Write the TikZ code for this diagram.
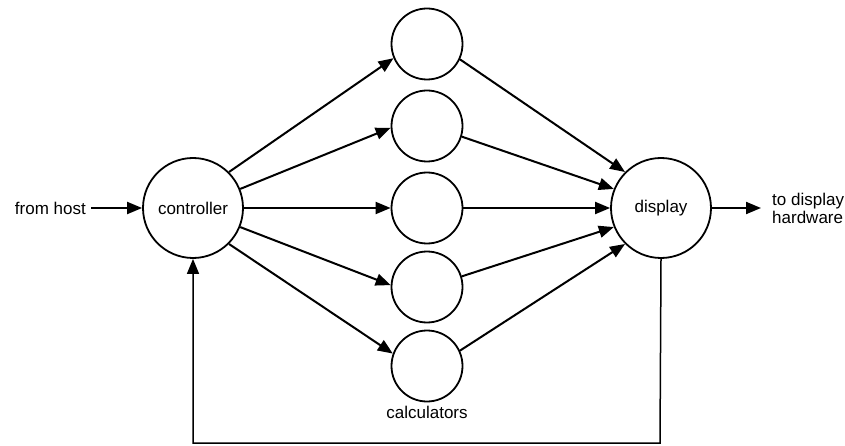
\documentclass[tikz,border=0pt]{standalone}
\usepackage{fontspec}
\setmainfont{Liberation Sans}
\usetikzlibrary{arrows.meta}
\tikzset{
  bigcirc/.style={draw, circle, line width=1.8pt, minimum size=100pt, inner sep=0pt, font=\fontsize{17}{18}\selectfont},
  calc/.style={draw, circle, line width=1.8pt, minimum size=71pt, inner sep=0pt},
  arr/.style={line width=2pt, -{Triangle[length=15pt,width=12pt]}},
  fb/.style={line width=1.5pt, -{Triangle[length=15pt,width=12pt]}},
  lbl/.style={font=\fontsize{17}{18}\selectfont, inner sep=0pt}
}
\begin{document}
\begin{tikzpicture}[x=1pt,y=-1pt]
\useasboundingbox (0,0) rectangle (845,446);
\node[bigcirc] (ctrl) at (193,208) {controller};
\node[bigcirc] (disp) at (661,208) {display};
\node[calc] (c1) at (427,44) {};
\node[calc] (c2) at (427,126) {};
\node[calc] (c3) at (427,208) {};
\node[calc] (c4) at (427,287) {};
\node[calc] (c5) at (427,366) {};
\node[lbl, anchor=east] (host) at (86,208) {from host};
\node[lbl, anchor=west, align=left] (hw) at (772,208) {to display\\hardware};
\node[lbl] (calcs) at (427,412) {calculators};
\coordinate (fbR) at (660,443);
\coordinate (fbL) at (193,443);
% inputs
\draw[arr, shorten <=5pt] (host.east) -- (ctrl.west);
\draw[arr, shorten >=11pt] (disp.east) -- (hw.west);
% controller to calculators
\draw[arr] (ctrl.45) -- (c1.203);
\draw[arr] (ctrl.22) -- (c2.183);
\draw[arr] (ctrl.0) -- (c3.180);
\draw[arr] (ctrl.-22) -- (c4.177);
\draw[arr] (ctrl.-45) -- (c5.160);
% calculators to display
\draw[arr] (c1.-25) -- (disp.135);
\draw[arr] (c2.-17) -- (disp.158);
\draw[arr] (c3.0) -- (disp.180);
\draw[arr] (c4.17) -- (disp.202);
\draw[arr] (c5.25) -- (disp.225);
% feedback
\draw[fb] (disp.south) -- (fbR) -- (fbL) -- (ctrl.south);
\end{tikzpicture}
\end{document}
